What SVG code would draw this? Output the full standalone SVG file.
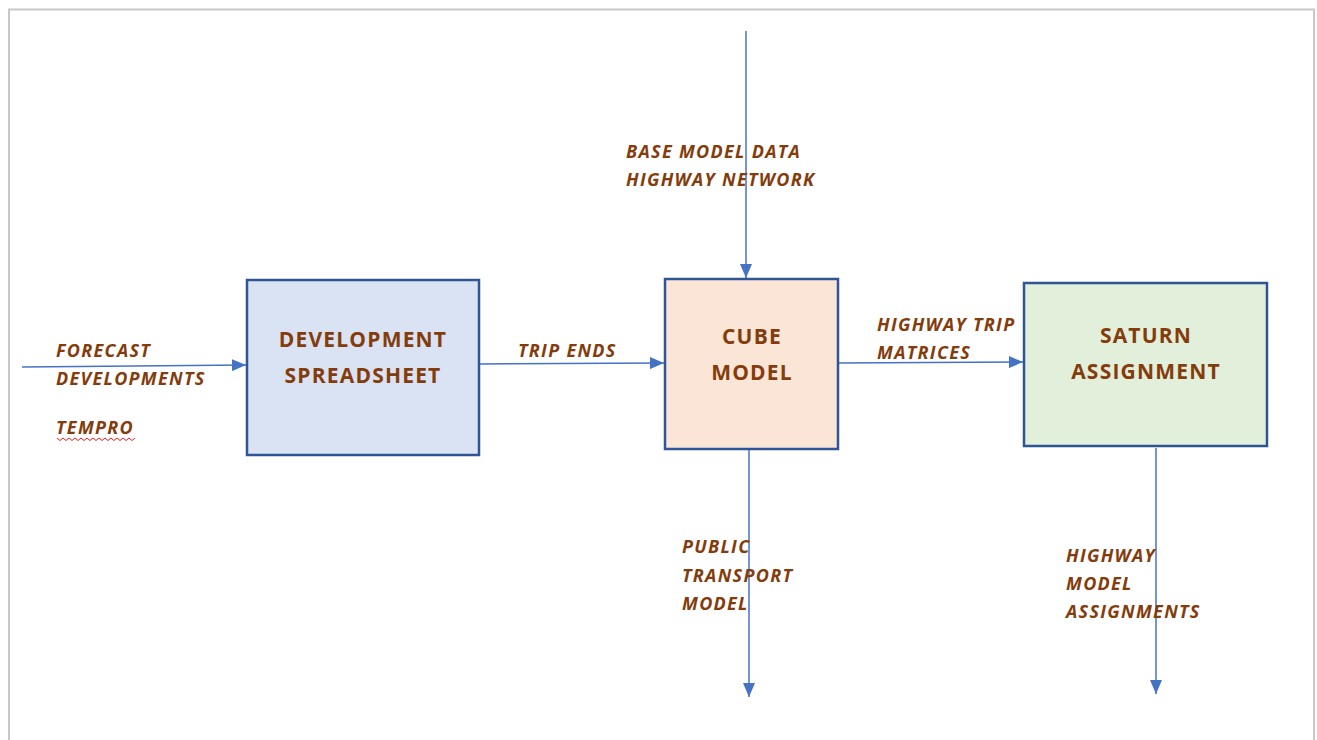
<svg xmlns="http://www.w3.org/2000/svg" width="1317" height="740" viewBox="0 0 1317 740">
<defs>
<marker id="ah" viewBox="0 0 14 12" refX="14" refY="6" markerWidth="14" markerHeight="12" markerUnits="userSpaceOnUse" orient="auto">
<path d="M0,0 L14,6 L0,12 z" fill="#4472C4"/>
</marker>
<style>
.box{stroke:#2F5597;stroke-width:2.5}
.bt{font-family:"Open Sans",Lato,sans-serif;font-weight:bold;font-size:21px;letter-spacing:1.2px;fill:#843C0C;text-anchor:middle}
.lt{font-family:"Open Sans",Lato,sans-serif;font-weight:bold;font-style:italic;font-size:18px;letter-spacing:1.3px;fill:#843C0C}
.cn{stroke:#4472C4;stroke-width:1.5;fill:none;marker-end:url(#ah)}
</style>
</defs>
<rect width="1317" height="740" fill="#fff"/>
<path d="M9,740 V9.5 H1314 V740" fill="none" stroke="#C8C8C8" stroke-width="2"/>
<g id="connectors">
<line class="cn" x1="22" y1="367" x2="246" y2="365"/>
<line class="cn" x1="480" y1="364" x2="664" y2="363"/>
<line class="cn" x1="839" y1="363" x2="1023" y2="362"/>
<line class="cn" x1="746" y1="31" x2="746" y2="278"/>
<line class="cn" x1="749" y1="450" x2="749" y2="697"/>
<line class="cn" x1="1156" y1="448" x2="1156" y2="694"/>
</g>
<g id="node-development">
<rect class="box" x="247" y="280" width="232" height="175" fill="#DAE3F3"/>
<text class="bt" x="363" y="347">DEVELOPMENT</text>
<text class="bt" x="363" y="383">SPREADSHEET</text>
</g>
<g id="node-cube">
<rect class="box" x="665" y="279" width="173" height="170" fill="#FBE5D6"/>
<text class="bt" x="752" y="344">CUBE</text>
<text class="bt" x="752" y="380">MODEL</text>
</g>
<g id="node-saturn">
<rect class="box" x="1024" y="283" width="243" height="163" fill="#E2EFDA"/>
<text class="bt" x="1146" y="343">SATURN</text>
<text class="bt" x="1146" y="379">ASSIGNMENT</text>
</g>
<g id="labels">
<text class="lt" x="56" y="357">FORECAST</text>
<text class="lt" x="56" y="385">DEVELOPMENTS</text>
<text class="lt" x="56" y="434">TEMPRO</text>
<path d="M57,438 l3,2.5 3,-2.5 3,2.5 3,-2.5 3,2.5 3,-2.5 3,2.5 3,-2.5 3,2.5 3,-2.5 3,2.5 3,-2.5 3,2.5 3,-2.5 3,2.5 3,-2.5 3,2.5 3,-2.5 3,2.5 3,-2.5 3,2.5 3,-2.5 3,2.5 3,-2.5 3,2.5 3,-2.5" fill="none" stroke="#E02020" stroke-width="1"/>
<text class="lt" x="518" y="357">TRIP ENDS</text>
<text class="lt" x="877" y="331">HIGHWAY TRIP</text>
<text class="lt" x="877" y="359">MATRICES</text>
<text class="lt" x="626" y="158">BASE MODEL DATA</text>
<text class="lt" x="626" y="186">HIGHWAY NETWORK</text>
<text class="lt" x="682" y="553">PUBLIC</text>
<text class="lt" x="682" y="582">TRANSPORT</text>
<text class="lt" x="682" y="610">MODEL</text>
<text class="lt" x="1066" y="562">HIGHWAY</text>
<text class="lt" x="1066" y="590">MODEL</text>
<text class="lt" x="1066" y="618">ASSIGNMENTS</text>
</g>
</svg>
